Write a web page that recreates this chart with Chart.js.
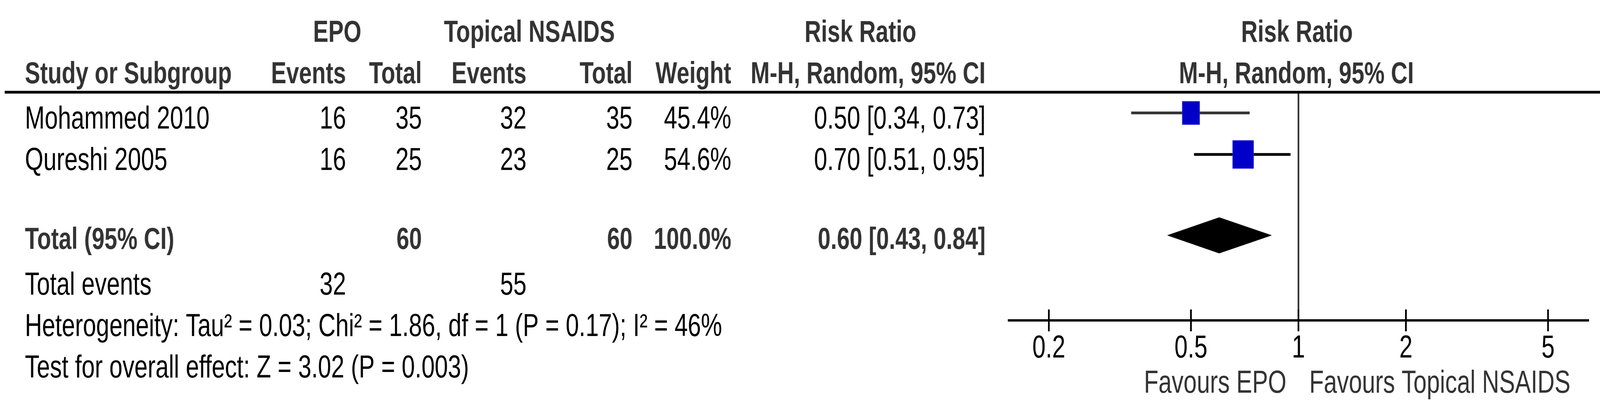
<!DOCTYPE html>
<html>
<head>
<meta charset="utf-8">
<script src="https://cdn.jsdelivr.net/npm/chart.js@4/dist/chart.umd.min.js"></script>
<style>
  html, body { margin: 0; padding: 0; background: #fff; overflow: hidden; }
  #forest { display: block; }
</style>
</head>
<body>
<!-- the reference is squeezed horizontally, so the canvas is drawn wide and shown narrow -->
<canvas id="forest" width="5528" height="1057" style="width:4146px;height:1057px"></canvas>
<script>
const studies = ['Mohammed 2010', 'Qureshi 2005'];
const epoEvents = [16, 16];
const epoTotal = [35, 25];
const nsaidEvents = [32, 23];
const nsaidTotal = [35, 25];
const weights = [45.4, 54.6];
const riskRatio = [0.50, 0.70];
const ciLow = [0.34, 0.51];
const ciHigh = [0.73, 0.95];

const pooledRR = 0.60;
const pooledLow = 0.43;
const pooledHigh = 0.84;
const totalEpo = 60;
const totalNsaid = 60;
const totalWeight = 100.0;
const totalEvents = [32, 55];

const tickValues = [0.2, 0.5, 1, 2, 5];
const heterogeneity = 'Heterogeneity: Tau\u00B2 = 0.03; Chi\u00B2 = 1.86, df = 1 (P = 0.17); I\u00B2 = 46%';
const overallEffect = 'Test for overall effect: Z = 3.02 (P = 0.003)';

// row positions on the y scale
const studyRows = [1, 2];
const totalRow = 3.95;
const eventsRow = 5;
const hetRow = 6;
const testRow = 7;

const ciColors = ['#333333', '#000000'];
const FONT = '"Liberation Sans", Arial, sans-serif';

const fmtRR = (r, lo, hi) => `${r.toFixed(2)} [${lo.toFixed(2)}, ${hi.toFixed(2)}]`;

const datasets = [];

datasets.push({
  label: 'studies',
  order: 0,
  data: studies.map((s, i) => ({ x: riskRatio[i], y: studyRows[i] })),
  pointStyle: 'rect',
  pointRadius: weights.map(w => w * 1.32 / Math.SQRT2),
  backgroundColor: '#0000c8',
  borderColor: '#5a5ae0',
  borderWidth: 1
});

studies.forEach((s, i) => {
  datasets.push({
    label: s + ' CI',
    order: 1,
    data: [{ x: ciLow[i], y: studyRows[i] }, { x: ciHigh[i], y: studyRows[i] }],
    showLine: true,
    pointRadius: 0,
    borderWidth: 7,
    borderColor: ciColors[i]
  });
});

datasets.push({
  label: 'pooled',
  order: 1,
  data: [
    { x: pooledLow, y: totalRow },
    { x: pooledRR, y: totalRow - 0.43 },
    { x: pooledHigh, y: totalRow },
    { x: pooledRR, y: totalRow + 0.43 },
    { x: pooledLow, y: totalRow }
  ],
  showLine: true,
  fill: 'shape',
  pointRadius: 0,
  borderWidth: 1,
  borderColor: '#000',
  backgroundColor: '#000'
});

datasets.push({
  label: 'no effect',
  order: 2,
  data: [{ x: 1, y: 0.5 }, { x: 1, y: 6 }],
  showLine: true,
  pointRadius: 0,
  borderWidth: 6,
  borderColor: '#333'
});

const tablePlugin = {
  id: 'forestTable',
  afterDraw(chart) {
    const { ctx, chartArea, scales: { x, y } } = chart;
    const text = (str, px, py, align, color, bold) => {
      ctx.font = bold ? `bold 78px ${FONT}` : `81px ${FONT}`;
      ctx.textAlign = align;
      ctx.textBaseline = 'alphabetic';
      ctx.fillStyle = color;
      ctx.fillText(str, px, py);
    };
    const base = (row) => y.getPixelForValue(row) + 40;
    const one = x.getPixelForValue(1);

    ctx.save();
    // header rule
    ctx.fillStyle = '#000';
    ctx.fillRect(16, chartArea.top - 3.5, 5493 - 16, 7);

    // axis with ticks above and below
    const axisY = chartArea.bottom;
    ctx.fillRect(chartArea.left, axisY - 3, chartArea.right - chartArea.left, 6);
    tickValues.forEach(v => {
      const px = x.getPixelForValue(v);
      ctx.fillRect(px - 3, axisY - 28, 6, 56);
      text(String(v), px, 915, 'center', '#000');
    });
    text('Favours EPO', one - 41, 1005, 'right', '#333');
    text('Favours Topical NSAIDS', one + 37, 1005, 'left', '#333');

    // headers
    const hd = '#333';
    text('EPO', 1151, 107, 'center', hd, true);
    text('Topical NSAIDS', 1807, 107, 'center', hd, true);
    text('Risk Ratio', 2937, 107, 'center', hd, true);
    text('Risk Ratio', one - 5, 107, 'center', hd, true);
    text('Study or Subgroup', 85, 213, 'left', hd, true);
    text('Events', 1181, 213, 'right', hd, true);
    text('Total', 1440, 213, 'right', hd, true);
    text('Events', 1797, 213, 'right', hd, true);
    text('Total', 2159, 213, 'right', hd, true);
    text('Weight', 2496, 213, 'right', hd, true);
    text('M-H, Random, 95% CI', 3364, 213, 'right', hd, true);
    text('M-H, Random, 95% CI', one - 7, 213, 'center', hd, true);

    // study rows
    studies.forEach((s, i) => {
      const py = base(studyRows[i]);
      text(s, 85, py, 'left', '#000');
      text(String(epoEvents[i]), 1181, py, 'right', '#000');
      text(String(epoTotal[i]), 1440, py, 'right', '#000');
      text(String(nsaidEvents[i]), 1797, py, 'right', '#000');
      text(String(nsaidTotal[i]), 2159, py, 'right', '#000');
      text(weights[i].toFixed(1) + '%', 2496, py, 'right', '#000');
      text(fmtRR(riskRatio[i], ciLow[i], ciHigh[i]), 3364, py, 'right', '#000');
    });

    // total row
    const ty = base(totalRow) - 5;
    text('Total (95% CI)', 85, ty, 'left', hd, true);
    text(String(totalEpo), 1440, ty, 'right', hd, true);
    text(String(totalNsaid), 2159, ty, 'right', hd, true);
    text(totalWeight.toFixed(1) + '%', 2496, ty, 'right', hd, true);
    text(fmtRR(pooledRR, pooledLow, pooledHigh), 3364, ty, 'right', hd, true);

    text('Total events', 85, base(eventsRow), 'left', '#000');
    text(String(totalEvents[0]), 1181, base(eventsRow), 'right', '#000');
    text(String(totalEvents[1]), 1797, base(eventsRow), 'right', '#000');
    text(heterogeneity, 85, base(hetRow), 'left', '#000');
    text(overallEffect, 85, base(testRow), 'left', '#000');
    ctx.restore();
  }
};

new Chart(document.getElementById('forest'), {
  type: 'scatter',
  data: { datasets },
  options: {
    responsive: false,
    devicePixelRatio: 1,
    animation: false,
    events: [],
    layout: { padding: { top: 236, bottom: 237, left: 3440, right: 104 } },
    elements: { line: { tension: 0 } },
    plugins: {
      legend: { display: false },
      tooltip: { enabled: false }
    },
    scales: {
      x: { type: 'logarithmic', min: 0.1535, max: 6.515, display: false },
      y: { type: 'linear', min: 0.5, max: 6, reverse: true, display: false }
    }
  },
  plugins: [tablePlugin]
});
</script>
</body>
</html>
